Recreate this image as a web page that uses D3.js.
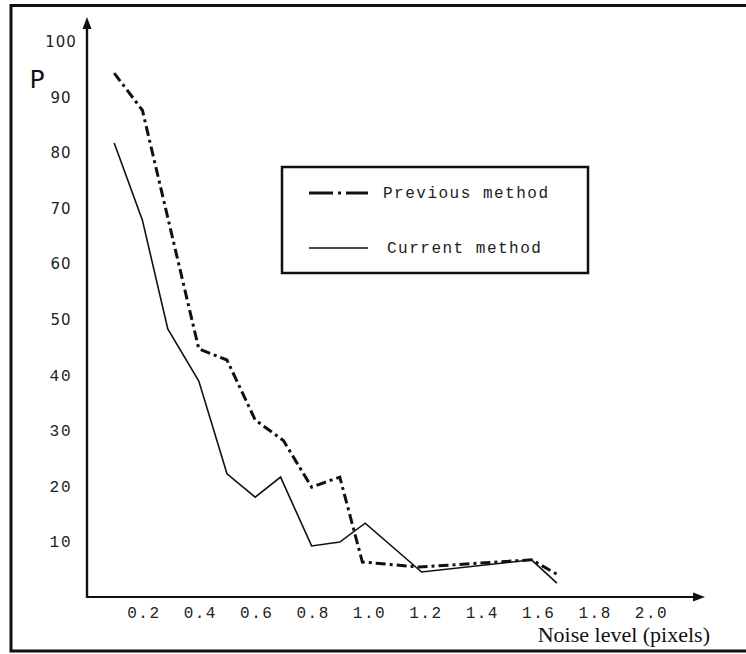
<!DOCTYPE html>
<html lang="en">
<head>
    <meta charset="UTF-8">
    <title>P versus noise level</title>
    <script src="https://d3js.org/d3.v7.min.js"></script>
    <style>
        body { margin: 0; padding: 0; background: #fff; }
        svg { display: block; }
        .mono { font-family: "Liberation Mono", "Courier New", monospace; letter-spacing: 1.5px; }
    </style>
</head>
<body>
<div id="chart"></div>
<script>
    // values
    const xTicks = [0.2, 0.4, 0.6, 0.8, 1.0, 1.2, 1.4, 1.6, 1.8, 2.0];
    const yTicks = [10, 20, 30, 40, 50, 60, 70, 80, 90, 100];

    const prevNoise = [0.1, 0.2, 0.4, 0.5, 0.6, 0.7, 0.8, 0.9, 0.98, 1.18, 1.58, 1.67];
    const prevP     = [94.4, 87.7, 44.7, 42.7, 31.9, 28.2, 19.8, 21.6, 6.3, 5.4, 6.7, 4.1];

    const currNoise = [0.1, 0.2, 0.29, 0.4, 0.5, 0.6, 0.69, 0.8, 0.9, 0.99, 1.19, 1.58, 1.67];
    const currP     = [81.8, 67.9, 48.3, 38.9, 22.2, 18.0, 21.6, 9.2, 9.9, 13.3, 4.5, 6.7, 2.5];

    const seriesNames = ["Previous method", "Current method"];

    const width = 746, height = 654;
    const svg = d3.select("#chart").append("svg")
        .attr("width", width)
        .attr("height", height);

    const x = d3.scaleLinear().domain([0, 2]).range([86, 650]);
    const y = d3.scaleLinear().domain([0, 100]).range([597, 42]);

    // outer frame (right side runs off the page)
    svg.append("rect")
        .attr("x", 11).attr("y", 5.5)
        .attr("width", 760).attr("height", 645.5)
        .attr("fill", "none").attr("stroke", "#111").attr("stroke-width", 3);

    // axis lines with arrow heads
    const xEnd = 2.195, yEnd = 104.5;
    svg.append("line")
        .attr("x1", x(0)).attr("x2", x(xEnd) - 8)
        .attr("y1", y(0)).attr("y2", y(0))
        .attr("stroke", "#111").attr("stroke-width", 2.2);
    svg.append("path")
        .attr("d", `M${x(xEnd)},${y(0)} L${x(xEnd) - 12},${y(0) - 4.5} L${x(xEnd) - 12},${y(0) + 4.5} Z`)
        .attr("fill", "#111");
    svg.append("line")
        .attr("x1", x(0) + 1).attr("x2", x(0) + 1)
        .attr("y1", y(0) + 1).attr("y2", y(yEnd) + 8)
        .attr("stroke", "#111").attr("stroke-width", 2.4);
    svg.append("path")
        .attr("d", `M${x(0) + 1},${y(yEnd)} L${x(0) - 3.5},${y(yEnd) + 12} L${x(0) + 5.5},${y(yEnd) + 12} Z`)
        .attr("fill", "#111");

    // tick labels
    const gx = svg.append("g")
        .attr("transform", `translate(0,${y(0)})`)
        .call(d3.axisBottom(x).tickValues(xTicks).tickSize(0).tickPadding(10).tickFormat(d3.format(".1f")));
    gx.select(".domain").remove();
    gx.selectAll("text")
        .attr("class", "mono")
        .attr("dx", 1)
        .style("font-size", "16px")
        .attr("fill", "#222");

    const gy = svg.append("g")
        .attr("transform", `translate(${x(0)},0)`)
        .call(d3.axisLeft(y).tickValues(yTicks).tickSize(0));
    gy.select(".domain").remove();
    gy.selectAll("text")
        .attr("x", -25)
        .attr("text-anchor", "middle")
        .attr("fill", "#222")
        .style("font-size", d => d >= 50 ? "15px" : "16px")
        .style("font-family", d => d >= 50 ? "'DejaVu Sans', sans-serif" : "'Liberation Mono', monospace")
        .style("letter-spacing", d => d >= 50 ? "1px" : "2px");

    // axis titles
    svg.append("text")
        .attr("x", 37).attr("y", 88)
        .attr("text-anchor", "middle")
        .style("font-family", "'DejaVu Sans', sans-serif")
        .style("font-size", "25px")
        .attr("fill", "#111")
        .text("P");

    svg.append("text")
        .attr("x", 710).attr("y", 642)
        .attr("text-anchor", "end")
        .style("font-family", "'Liberation Serif', 'Times New Roman', serif")
        .style("font-size", "22px")
        .attr("fill", "#111")
        .text("Noise level (pixels)");

    // lines
    const line = d3.line()
        .x(d => x(d[0]))
        .y(d => y(d[1]));

    svg.append("path")
        .datum(d3.zip(prevNoise, prevP))
        .attr("fill", "none")
        .attr("stroke", "#111")
        .attr("stroke-width", 3)
        .attr("stroke-dasharray", "10,4,3,4")
        .attr("d", line);

    svg.append("path")
        .datum(d3.zip(currNoise, currP))
        .attr("fill", "none")
        .attr("stroke", "#111")
        .attr("stroke-width", 1.6)
        .attr("d", line);

    // legend
    const legend = svg.append("g").attr("transform", "translate(282,167)");
    legend.append("rect")
        .attr("width", 306).attr("height", 106)
        .attr("fill", "#fff").attr("stroke", "#111").attr("stroke-width", 2.5);

    const legendStyles = [
        { width: 3, dash: "24,5,3,5" },
        { width: 1.6, dash: null }
    ];
    legend.selectAll(".key")
        .data(seriesNames)
        .enter()
        .append("line")
        .attr("x1", 27).attr("x2", 86)
        .attr("y1", (d, i) => 26 + i * 55)
        .attr("y2", (d, i) => 26 + i * 55)
        .attr("stroke", "#111")
        .attr("stroke-width", (d, i) => legendStyles[i].width)
        .attr("stroke-dasharray", (d, i) => legendStyles[i].dash);

    legend.selectAll(".label")
        .data(seriesNames)
        .enter()
        .append("text")
        .attr("class", "mono")
        .attr("x", (d, i) => 101 + i * 4)
        .attr("y", (d, i) => 31 + i * 55)
        .style("font-size", "16px")
        .attr("fill", "#222")
        .text(d => d);
</script>
</body>
</html>
